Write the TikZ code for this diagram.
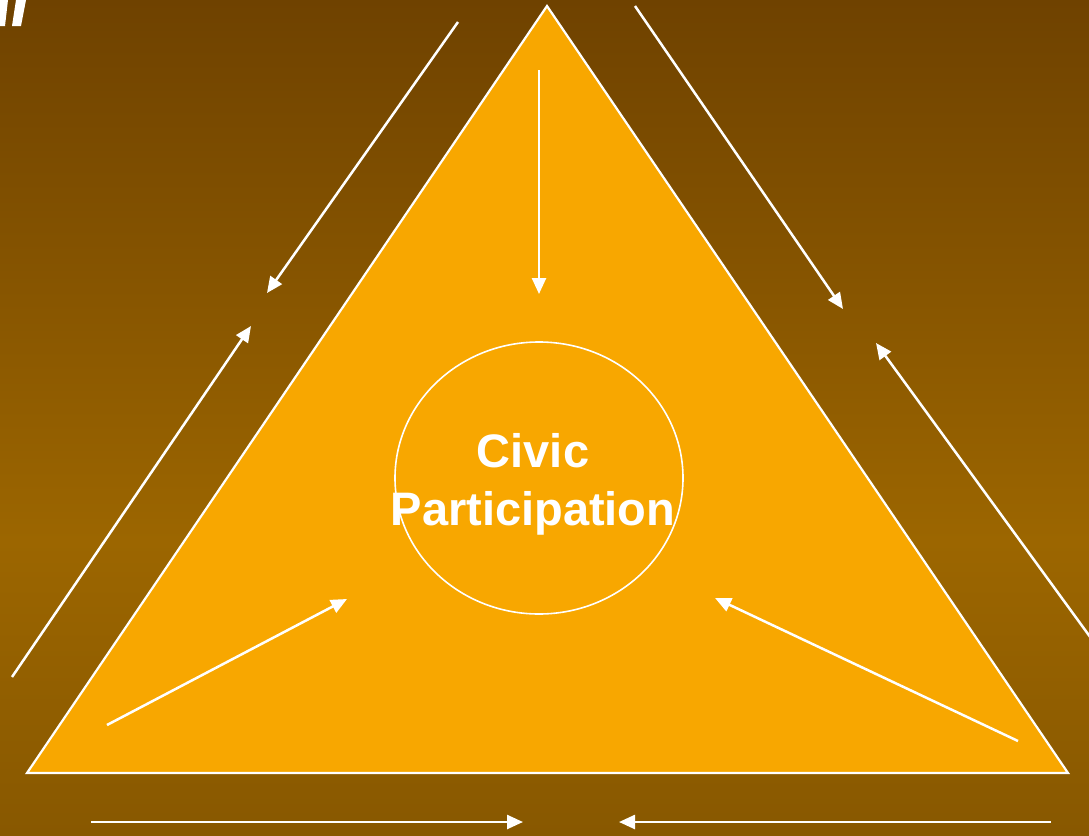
\documentclass[tikz,border=0pt]{standalone}
\usepackage{fontspec}
\setmainfont{Liberation Sans}
\usetikzlibrary{arrows.meta,shapes.geometric}
\definecolor{bgtop}{HTML}{6F4200}
\definecolor{bgmid}{HTML}{9C6600}
\definecolor{bgbot}{HTML}{885800}
\definecolor{tri}{HTML}{F8A700}
\tikzset{
  wline/.style={draw=white, line width=2.2pt},
  warrow/.style={draw=white, line width=2.5pt, -{Triangle[length=16pt,width=14pt]}},
}
\begin{document}
\begin{tikzpicture}[x=1pt,y=-1pt]
\useasboundingbox (0,0) rectangle (1089,835);
\clip (0,0) rectangle (1089,835);
\shade[top color=bgtop, bottom color=bgmid] (0,0) rectangle (1089,541);
\shade[top color=bgmid, bottom color=bgbot] (0,540) rectangle (1089,835);
% quote fragment
\fill[white] (-3,0) -- (8,0) -- (5,26) -- (-6,26) -- cycle;
\fill[white] (16,0) -- (26,0) -- (21,26) -- (12,26) -- cycle;
% triangle
\coordinate (apex) at (547,6);
\coordinate (bl) at (27,773);
\coordinate (br) at (1068,773);
\filldraw[fill=tri, wline] (apex) -- (bl) -- (br) -- cycle;
% ellipse and label
\node[ellipse, draw=white, line width=1.6pt, minimum width=288pt, minimum height=272pt, inner sep=0pt] (circ) at (539,478) {};
\node[text=white, align=center, inner sep=0pt, font=\bfseries\fontsize{47}{58}\selectfont] (lbl) at (533,484) {Civic\\Participation};
% arrow endpoints
\coordinate (a1s) at (458,22);   \coordinate (a1e) at (267,293);
\coordinate (a2s) at (12,677);   \coordinate (a2e) at (251,326);
\coordinate (a3s) at (539,70);   \coordinate (a3e) at (539,294);
\coordinate (a4s) at (635,6);    \coordinate (a4e) at (843,309);
\coordinate (a5s) at (1096,645); \coordinate (a5e) at (876,343);
\coordinate (a6s) at (107,725);  \coordinate (a6e) at (347,599);
\coordinate (a7s) at (1018,741); \coordinate (a7e) at (715,598);
\coordinate (a8s) at (91,822);   \coordinate (a8e) at (523,822);
\coordinate (a9s) at (1051,822); \coordinate (a9e) at (619,822);
\foreach \i in {1,...,9} {\draw[warrow] (a\i s) -- (a\i e);}
\end{tikzpicture}
\end{document}
